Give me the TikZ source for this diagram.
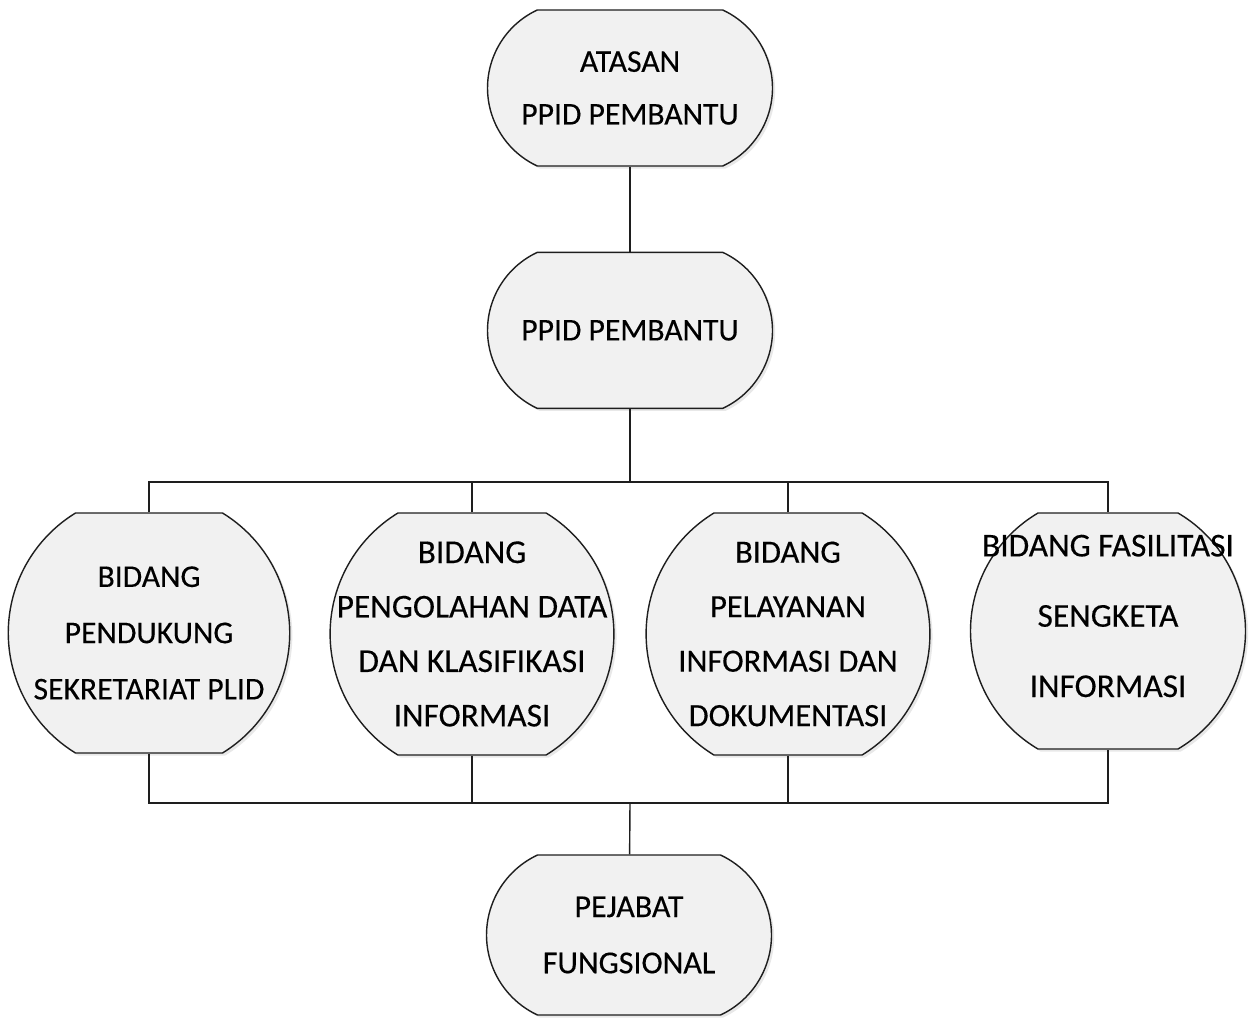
\documentclass[tikz,border=0pt]{standalone}
\usepackage{fontspec}
\setmainfont[FakeBold=0.3]{Carlito}
\definecolor{Ink}{HTML}{1E1E1E}
\definecolor{Wash}{HTML}{F1F1F1}
\usetikzlibrary{shapes.misc,shadows,positioning}

\begin{document}
\begin{tikzpicture}[
    x=0.02cm, y=-0.02cm,
    node distance=1.7cm,
    unit/.style={
      rounded rectangle, rounded rectangle arc length=130,
      draw=Ink, line width=0.8pt, fill=Wash,
      drop shadow={shadow xshift=1.5pt, shadow yshift=-1.5pt, opacity=0.18},
      inner sep=0pt, minimum width=5.7cm, minimum height=3.12cm
    },
    field/.style={
      unit, rounded rectangle arc length=117,
      minimum width=5.62cm, minimum height=4.84cm
    },
    txt/.style={align=center, inner sep=0pt, font=\fontsize{18}{30}\selectfont},
    fieldtxt/.style={txt, font=\fontsize{#1}{31}\selectfont},
    fieldtxt/.default=18,
    link/.style={draw=Ink, line width=0.8pt}
  ]
    \useasboundingbox (0,0) rectangle (1257,1020);
    \node[unit, label={[txt]center:{ATASAN\\PPID PEMBANTU}}] (atasan) at (630,88) {};
    \node[unit, below=of atasan, label={[txt]center:PPID PEMBANTU}] (ppid) {};
    \node[field, minimum height=4.8cm, label={[fieldtxt, font=\fontsize{18}{32}\selectfont]center:{BIDANG\\PENDUKUNG\\SEKRETARIAT PLID}}] (pendukung) at (149,633) {};
    \node[field, label={[fieldtxt=19]center:{BIDANG\\PENGOLAHAN DATA\\DAN KLASIFIKASI\\INFORMASI}}] (pengolahan) at (472,634) {};
    \node[field, label={[fieldtxt=18.5]center:{BIDANG\\PELAYANAN\\INFORMASI DAN\\DOKUMENTASI}}] (pelayanan) at (788,634) {};
    \node[field, rounded rectangle arc length=119, minimum width=5.5cm, minimum height=4.72cm,
      label={[fieldtxt, font=\fontsize{19}{40}\selectfont, yshift=0.3cm]center:{BIDANG FASILITASI\\SENGKETA\\INFORMASI}}] (fasilitasi) at (1108,631) {};
    \node[unit, minimum height=3.2cm, label={[txt, font=\fontsize{18.2}{32}\selectfont]center:{PEJABAT\\FUNGSIONAL}}] (pejabat) at (629,935) {};
    \coordinate (topbus) at (630,482);
    \coordinate (botbus) at (630,803);
    \draw[link] (atasan) -- (ppid);
    \draw[link] (ppid) -- (topbus);
    \draw[link] (pendukung.north) |- (fasilitasi.north |- topbus) -- (fasilitasi.north);
    \draw[link] (pengolahan.north) -- (pengolahan.north |- topbus);
    \draw[link] (pelayanan.north) -- (pelayanan.north |- topbus);
    \draw[link] (pendukung.south) |- (fasilitasi.south |- botbus) -- (fasilitasi.south);
    \draw[link] (pengolahan.south) -- (pengolahan.south |- botbus);
    \draw[link] (pelayanan.south) -- (pelayanan.south |- botbus);
    \draw[link] (botbus) -- (pejabat);
  \end{tikzpicture}
\end{document}
